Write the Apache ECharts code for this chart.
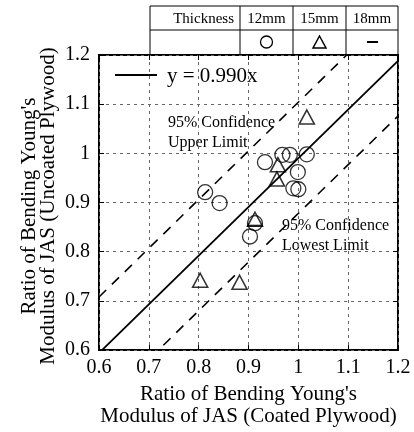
<!DOCTYPE html>
<html>
<head>
<meta charset="utf-8">
<script src="https://cdn.jsdelivr.net/npm/echarts@6/dist/echarts.min.js"></script>
<style>
    html, body { margin: 0; padding: 0; background: #fff; }
    #chart { width: 414px; height: 432px; }
</style>
</head>
<body>
<div id="chart"></div>
<script>
//刻度
const xTicks = [0.6, 0.7, 0.8, 0.9, 1.0, 1.1, 1.2];
const yTicks = [0.6, 0.7, 0.8, 0.9, 1.0, 1.1, 1.2];

//12mm 圆
const circles12 = [
    [0.813, 0.921], [0.842, 0.899], [0.903, 0.831], [0.913, 0.858],
    [0.933, 0.982], [0.968, 0.997], [0.983, 0.997], [1.017, 0.998],
    [0.999, 0.962], [0.990, 0.929], [1.000, 0.927]
];
//15mm 三角
const triangles15 = [
    [0.803, 0.742], [0.882, 0.738], [0.913, 0.866],
    [0.957, 0.948], [0.959, 0.977], [1.017, 1.074]
];
//18mm 横线
const dashes18 = [[0.913, 0.853]];

//回归线及95%置信限
const fitLine = [[0.6, 0.594], [1.2, 1.188]];
const upperLimit = [[0.6, 0.708], [1.2, 1.302]];
const lowerLimit = [[0.6, 0.482], [1.2, 1.076]];

const serif = "'Liberation Serif', 'DejaVu Serif', serif";
const grid = { left: 99, top: 55, width: 299, height: 302 };

let chart = echarts.init(document.getElementById('chart'));

function tickText(v) {
    return String(Math.round(v * 10) / 10);
}

function baseAxis(ticks) {
    return {
        type: 'value',
        min: ticks[0],
        max: ticks[ticks.length - 1],
        interval: 0.1,
        axisLine: { show: false },
        axisTick: { show: true, inside: true, length: 5, lineStyle: { color: '#000', width: 1 } },
        splitLine: { show: false },
        axisLabel: { show: false }
    };
}

let xMain = Object.assign(baseAxis(xTicks), {
    position: 'bottom',
    axisLabel: { show: true, formatter: tickText, color: '#000', fontFamily: serif, fontSize: 20, margin: 8 },
    splitLine: { show: true, lineStyle: { color: '#666', width: 1, type: [3, 4] } },
    name: "Ratio of Bending Young's\nModulus of JAS (Coated Plywood)",
    nameLocation: 'middle',
    nameGap: 30,
    nameTextStyle: { color: '#000', fontFamily: serif, fontSize: 21, lineHeight: 22 }
});
let xTop = Object.assign(baseAxis(xTicks), { position: 'top' });

let yMain = Object.assign(baseAxis(yTicks), {
    position: 'left',
    axisLabel: { show: true, formatter: tickText, color: '#000', fontFamily: serif, fontSize: 20, margin: 9 },
    splitLine: { show: true, lineStyle: { color: '#666', width: 1, type: [3, 4] } }
});
let yRight = Object.assign(baseAxis(yTicks), { position: 'right' });

const markStyle = { color: 'rgba(0,0,0,0)', borderColor: '#000', borderWidth: 1.3 };

let option = {
    animation: false,
    backgroundColor: '#fff',
    grid: Object.assign({ show: true, borderColor: '#000', borderWidth: 2, backgroundColor: 'transparent' }, grid),
    xAxis: [xMain, xTop],
    yAxis: [yMain, yRight],
    series: [
        {
            name: 'y = 0.990x', type: 'line', data: fitLine, symbol: 'none',
            lineStyle: { color: '#000', width: 1.8 }, silent: true, z: 3
        },
        {
            name: 'upper', type: 'line', data: upperLimit, symbol: 'none',
            lineStyle: { color: '#000', width: 1.6, type: [10, 8] }, silent: true, z: 3
        },
        {
            name: 'lower', type: 'line', data: lowerLimit, symbol: 'none',
            lineStyle: { color: '#000', width: 1.6, type: [10, 8] }, silent: true, z: 3
        },
        {
            name: '12mm', type: 'scatter', data: circles12, symbol: 'circle', symbolSize: 15,
            itemStyle: markStyle, z: 4
        },
        {
            name: '15mm', type: 'scatter', data: triangles15, symbol: 'triangle', symbolSize: [15, 14],
            itemStyle: { color: 'rgba(0,0,0,0)', borderColor: '#000', borderWidth: 1.6 }, z: 4
        },
        {
            name: '18mm', type: 'scatter', data: dashes18, symbol: 'rect', symbolSize: [16, 2],
            itemStyle: { color: '#000' }, z: 4
        }
    ],
    graphic: [
        //厚度表格
        { type: 'rect', shape: { x: 150, y: 6, width: 248, height: 49 }, style: { fill: 'none', stroke: '#000', lineWidth: 1 } },
        { type: 'line', shape: { x1: 150, y1: 30, x2: 398, y2: 30 }, style: { stroke: '#000', lineWidth: 1 } },
        { type: 'line', shape: { x1: 240, y1: 6, x2: 240, y2: 55 }, style: { stroke: '#000', lineWidth: 1 } },
        { type: 'line', shape: { x1: 293, y1: 6, x2: 293, y2: 55 }, style: { stroke: '#000', lineWidth: 1 } },
        { type: 'line', shape: { x1: 346, y1: 6, x2: 346, y2: 55 }, style: { stroke: '#000', lineWidth: 1 } },
        { type: 'text', x: 234, y: 19, style: { text: 'Thickness', font: '15px ' + serif, fill: '#000', align: 'right', verticalAlign: 'middle' } },
        { type: 'text', x: 266.5, y: 19, style: { text: '12mm', font: '15px ' + serif, fill: '#000', align: 'center', verticalAlign: 'middle' } },
        { type: 'text', x: 319.5, y: 19, style: { text: '15mm', font: '15px ' + serif, fill: '#000', align: 'center', verticalAlign: 'middle' } },
        { type: 'text', x: 372, y: 19, style: { text: '18mm', font: '15px ' + serif, fill: '#000', align: 'center', verticalAlign: 'middle' } },
        { type: 'circle', shape: { cx: 266.5, cy: 42, r: 6 }, style: { fill: 'none', stroke: '#000', lineWidth: 1.3 } },
        { type: 'polygon', shape: { points: [[319.5, 36], [326, 48], [313, 48]] }, style: { fill: 'none', stroke: '#000', lineWidth: 1.5 } },
        { type: 'line', shape: { x1: 367, y1: 42, x2: 378, y2: 42 }, style: { stroke: '#000', lineWidth: 2 } },
        //图例
        { type: 'line', shape: { x1: 115, y1: 75, x2: 157, y2: 75 }, style: { stroke: '#000', lineWidth: 2 } },
        { type: 'text', x: 167, y: 76, style: { text: 'y = 0.990x', font: '21px ' + serif, fill: '#000', verticalAlign: 'middle' } },
        //注释
        { type: 'text', x: 168, y: 133, style: { text: '95% Confidence\nUpper Limit', font: '16px ' + serif, lineHeight: 20, fill: '#000', verticalAlign: 'middle' } },
        { type: 'text', x: 282, y: 236, style: { text: '95% Confidence\nLowest Limit', font: '16px ' + serif, lineHeight: 20, fill: '#000', verticalAlign: 'middle' } },
        //纵轴标题
        {
            type: 'text', x: 39, y: 206, rotation: Math.PI / 2,
            style: { text: "Ratio of Bending Young's\nModulus of JAS (Uncoated Plywood)", font: '21px ' + serif, lineHeight: 19, fill: '#000', align: 'center', verticalAlign: 'middle' }
        }
    ]
};
chart.setOption(option);
</script>
</body>
</html>
